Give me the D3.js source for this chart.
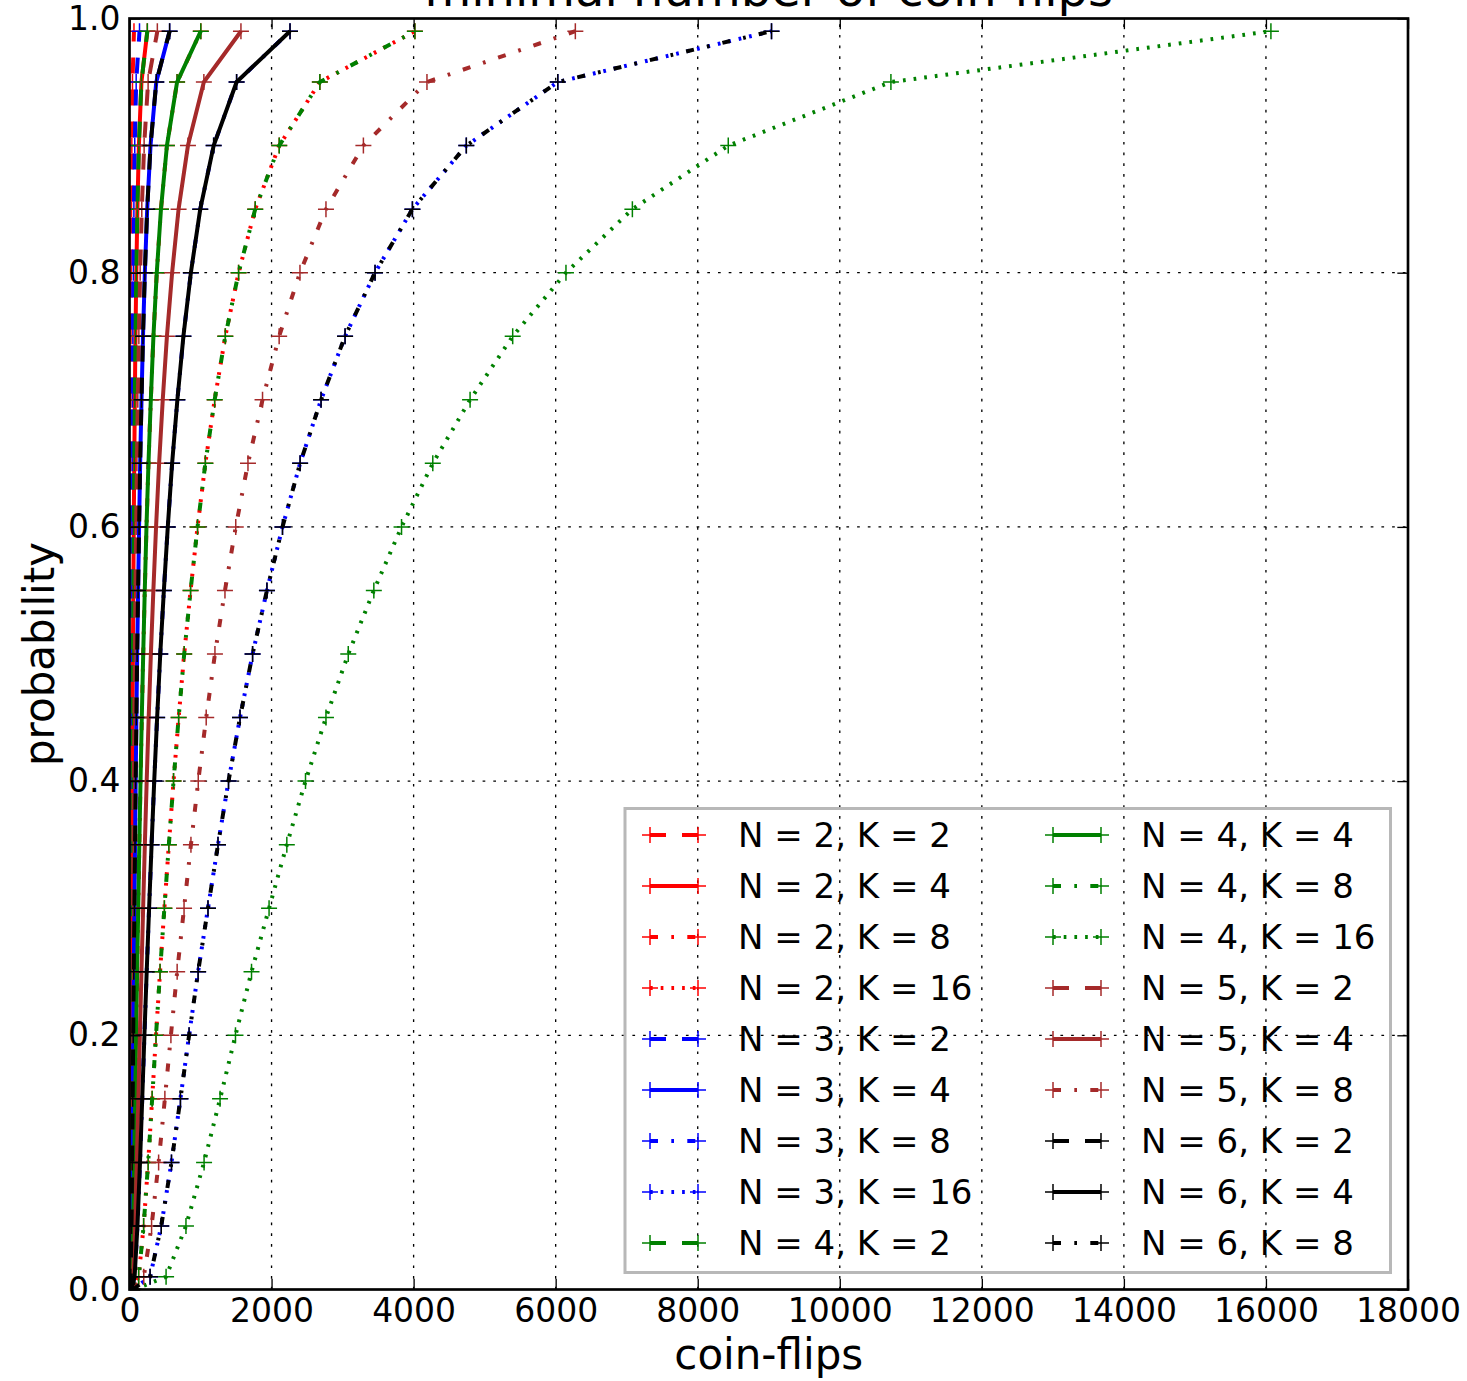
<!DOCTYPE html>
<html>
<head>
<meta charset="utf-8">
<script src="https://cdn.jsdelivr.net/npm/d3@7"></script>
<style>
  html, body { margin: 0; padding: 0; background: #fff; }
  svg { display: block; font-family: "DejaVu Sans", sans-serif; }
</style>
</head>
<body>
<div id="chart"></div>
<script>
// probability levels (y) shared by every curve
const probLevels = [0, 0.01, 0.05, 0.10, 0.15, 0.20, 0.25, 0.30, 0.35, 0.40, 0.45,
    0.50, 0.55, 0.60, 0.65, 0.70, 0.75, 0.80, 0.85, 0.90, 0.95, 0.99]

// coin-flips; curves with the same N*K lie on top of each other
const flipsNK4 = [4, 4, 4, 4, 5, 6, 7, 8, 9, 10, 11, 12, 13, 15, 17, 19, 21, 24, 28, 33, 42, 63]
const flipsNK6 = [6, 6, 7, 9, 11, 13, 15, 17, 19, 22, 24, 27, 30, 34, 38, 42, 47, 54, 62, 74, 94, 141]
const flipsNK8 = [8, 8, 12, 16, 20, 23, 27, 31, 35, 39, 43, 48, 54, 60, 67, 75, 84, 96, 111, 132, 168, 251]
const flipsNK10 = [10, 13, 19, 26, 31, 36, 42, 48, 54, 60, 68, 75, 84, 94, 104, 117, 132, 150, 173, 206, 262, 392]
const flipsNK12 = [12, 18, 28, 37, 45, 52, 60, 69, 78, 87, 97, 108, 121, 135, 150, 169, 190, 216, 249, 296, 377, 565]
const flipsNK16 = [16, 32, 50, 66, 80, 93, 107, 123, 138, 155, 173, 193, 215, 239, 267, 300, 337, 384, 443, 527, 670, 1004]
const flipsNK20 = [20, 50, 78, 103, 125, 146, 168, 192, 216, 242, 270, 301, 336, 374, 417, 468, 527, 600, 691, 823, 1047, 1569]
const flipsNK24 = [24, 72, 112, 148, 179, 210, 242, 276, 311, 348, 389, 433, 484, 539, 600, 674, 759, 864, 996, 1185, 1508, 2260]
const flipsNK32 = [32, 129, 199, 263, 319, 373, 430, 491, 554, 620, 692, 770, 860, 958, 1068, 1199, 1349, 1536, 1770, 2108, 2680, 4018]
const flipsNK40 = [40, 201, 311, 410, 498, 583, 671, 768, 865, 968, 1080, 1203, 1344, 1496, 1668, 1873, 2107, 2400, 2766, 3293, 4188, 6277]
const flipsNK48 = [48, 290, 447, 591, 717, 839, 966, 1105, 1246, 1394, 1556, 1733, 1935, 2154, 2402, 2697, 3035, 3457, 3983, 4742, 6030, 9039]
const flipsNK64 = [64, 515, 795, 1050, 1275, 1492, 1718, 1965, 2215, 2478, 2766, 3080, 3440, 3830, 4270, 4795, 5395, 6145, 7080, 8430, 10720, 16070]

const seriesLabels = ["N = 2, K = 2", "N = 2, K = 4", "N = 2, K = 8", "N = 2, K = 16",
    "N = 3, K = 2", "N = 3, K = 4", "N = 3, K = 8", "N = 3, K = 16",
    "N = 4, K = 2", "N = 4, K = 4", "N = 4, K = 8", "N = 4, K = 16",
    "N = 5, K = 2", "N = 5, K = 4", "N = 5, K = 8",
    "N = 6, K = 2", "N = 6, K = 4", "N = 6, K = 8"]
const seriesValues = [flipsNK4, flipsNK8, flipsNK16, flipsNK32,
    flipsNK6, flipsNK12, flipsNK24, flipsNK48,
    flipsNK8, flipsNK16, flipsNK32, flipsNK64,
    flipsNK10, flipsNK20, flipsNK40,
    flipsNK12, flipsNK24, flipsNK48]

const xTicks = [0, 2000, 4000, 6000, 8000, 10000, 12000, 14000, 16000, 18000]
const yTicks = [0, 0.2, 0.4, 0.6, 0.8, 1.0]

// matplotlib-like colours and line styles
const colorOf = { 2: "#ff0000", 3: "#0000ff", 4: "#008000", 5: "#a52a2a", 6: "#000000" }
const dashOf = { 2: "16,16", 4: null, 8: "8,13.3,2.7,13.3", 16: "2.7,8" }

const width = 1467
const height = 1381
const plot = { left: 129.5, right: 1408, top: 18.5, bottom: 1289.5 }
const pt = 2.67 // px per point

const x = d3.scaleLinear().domain([0, 18000]).range([plot.left, plot.right])
const y = d3.scaleLinear().domain([0, 1]).range([plot.bottom, plot.top])

const series = seriesLabels.map((label, i) => {
    const [, n, k] = label.match(/N = (\d+), K = (\d+)/).map(Number)
    return { label, color: colorOf[n], dash: dashOf[k], values: seriesValues[i] }
})

const svg = d3.select("#chart").append("svg")
    .attr("width", width)
    .attr("height", height)

svg.append("defs").append("clipPath").attr("id", "plotClip")
    .append("rect")
    .attr("x", plot.left).attr("y", plot.top)
    .attr("width", plot.right - plot.left).attr("height", plot.bottom - plot.top)

// grid
const grid = svg.append("g").attr("class", "grid")
    .attr("stroke", "#000").attr("stroke-width", 0.5 * pt).attr("stroke-dasharray", "2.7,8")
grid.selectAll(".gx").data(xTicks.slice(1, -1)).join("line")
    .attr("x1", d => x(d)).attr("x2", d => x(d))
    .attr("y1", plot.bottom).attr("y2", plot.top)
grid.selectAll(".gy").data(yTicks.slice(1, -1)).join("line")
    .attr("y1", d => y(d)).attr("y2", d => y(d))
    .attr("x1", plot.left).attr("x2", plot.right)

// curves
const line = d3.line()
    .x(d => x(d[0]))
    .y(d => y(d[1]))

const plus = (cx, cy, r) => `M${cx - r},${cy}H${cx + r}M${cx},${cy - r}V${cy + r}`

const curves = svg.append("g").attr("clip-path", "url(#plotClip)")
series.forEach(s => {
    const pts = s.values.map((v, i) => [v, probLevels[i]])
    curves.append("path")
        .datum(pts)
        .attr("fill", "none")
        .attr("stroke", s.color)
        .attr("stroke-width", 1.5 * pt)
        .attr("stroke-linejoin", "round")
        .attr("stroke-dasharray", s.dash)
        .attr("d", line)
    curves.append("path")
        .attr("fill", "none")
        .attr("stroke", s.color)
        .attr("stroke-width", 1.5)
        .attr("d", pts.map(p => plus(x(p[0]), y(p[1]), 8)).join(""))
})

// axes: ticks inside on all four sides
const tickLen = 4 * pt
const styleAxis = g => {
    g.select(".domain").remove()
    g.selectAll(".tick line").attr("stroke", "#000").attr("stroke-width", 0.5 * pt)
    g.selectAll("text").attr("fill", "#000").style("font-size", "33px")
        .style("font-family", "DejaVu Sans, sans-serif")
}

svg.append("g")
    .attr("transform", `translate(0,${plot.bottom})`)
    .call(d3.axisBottom(x).tickValues(xTicks).tickFormat(d3.format("d"))
        .tickSizeInner(-tickLen).tickSizeOuter(0).tickPadding(9))
    .call(styleAxis)

svg.append("g")
    .attr("transform", `translate(0,${plot.top})`)
    .call(d3.axisTop(x).tickValues(xTicks).tickFormat("")
        .tickSizeInner(-tickLen).tickSizeOuter(0))
    .call(styleAxis)

svg.append("g")
    .attr("transform", `translate(${plot.left},0)`)
    .call(d3.axisLeft(y).tickValues(yTicks).tickFormat(d3.format(".1f"))
        .tickSizeInner(-tickLen).tickSizeOuter(0).tickPadding(9))
    .call(styleAxis)

svg.append("g")
    .attr("transform", `translate(${plot.right},0)`)
    .call(d3.axisRight(y).tickValues(yTicks).tickFormat("")
        .tickSizeInner(-tickLen).tickSizeOuter(0))
    .call(styleAxis)

// frame
svg.append("rect")
    .attr("x", plot.left).attr("y", plot.top)
    .attr("width", plot.right - plot.left).attr("height", plot.bottom - plot.top)
    .attr("fill", "none").attr("stroke", "#000").attr("stroke-width", pt)

// labels and title (the title sits partly above the page, as in the original)
svg.append("text")
    .attr("x", (plot.left + plot.right) / 2).attr("y", 1369)
    .attr("text-anchor", "middle").style("font-size", "42px")
    .text("coin-flips")

svg.append("text")
    .attr("transform", `translate(54,${(plot.top + plot.bottom) / 2}) rotate(-90)`)
    .attr("text-anchor", "middle").style("font-size", "42px")
    .text("probability")

svg.append("text")
    .attr("x", (plot.left + plot.right) / 2).attr("y", 6)
    .attr("text-anchor", "middle").style("font-size", "48px")
    .text("minimal number of coin-flips")

// legend, two columns of nine
const legend = svg.append("g").attr("class", "legend")
legend.append("rect")
    .attr("x", 625).attr("y", 808.5).attr("width", 765.5).attr("height", 464)
    .attr("fill", "none").attr("stroke", "#b8b8b8").attr("stroke-width", 3)

const rows = 9
const items = legend.selectAll(".legend-item")
    .data(series)
    .join("g")
    .attr("class", "legend-item")
    .attr("transform", (d, i) => `translate(${i < rows ? 650 : 1053}, ${835 + (i % rows) * 51})`)

items.append("line")
    .attr("x1", 0).attr("x2", 48)
    .attr("stroke", d => d.color)
    .attr("stroke-width", 1.5 * pt)
    .attr("stroke-dasharray", d => d.dash)

items.append("path")
    .attr("fill", "none")
    .attr("stroke", d => d.color)
    .attr("stroke-width", 1.5)
    .attr("d", plus(0, 0, 8) + plus(48, 0, 8))

items.append("text")
    .attr("x", 88)
    .attr("y", 0)
    .attr("dy", "0.36em")
    .style("font-size", "34px")
    .text(d => d.label)
</script>
</body>
</html>
